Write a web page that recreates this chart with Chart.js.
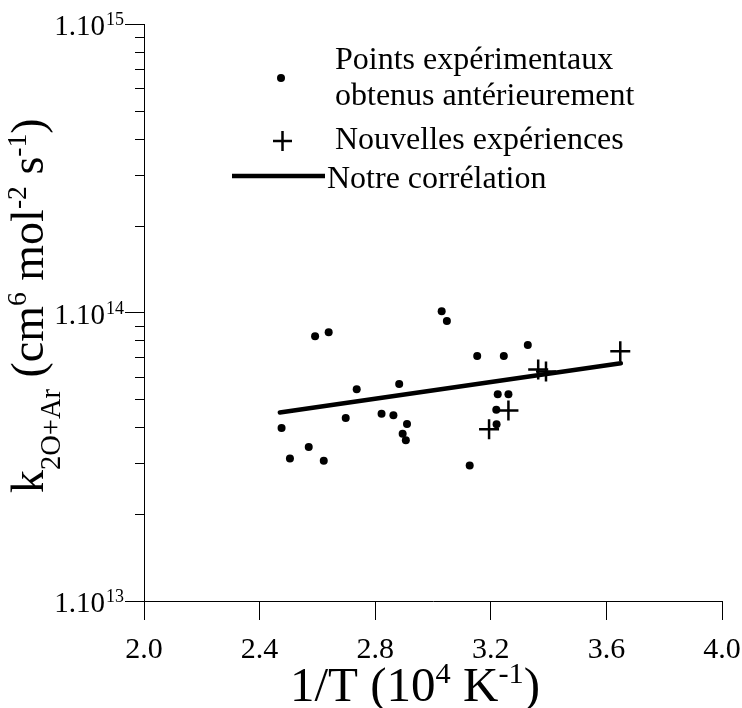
<!DOCTYPE html>
<html><head><meta charset="utf-8">
<script src="https://cdn.jsdelivr.net/npm/chart.js@4/dist/chart.umd.min.js"></script>
<style>html,body{margin:0;padding:0;background:#fff}#wrap{width:742px;height:708px;position:relative}</style>
</head><body><div id="wrap"><canvas id="c"></canvas></div>
<script>
// ---- data ----
const prevX = [3.030, 3.048, 2.592, 2.639, 3.153, 2.883, 2.736, 2.476, 2.698, 2.822, 2.863, 2.910, 2.895, 2.906, 2.570, 2.505, 2.622, 3.127, 3.245, 3.328, 3.224, 3.261, 3.219, 3.220];
const prevK = [1.01e14, 9.34e13, 8.27e13, 8.54e13, 7.06e13, 5.65e13, 5.42e13, 3.98e13, 4.31e13, 4.46e13, 4.40e13, 4.11e13, 3.80e13, 3.61e13, 3.42e13, 3.12e13, 3.06e13, 2.95e13, 7.06e13, 7.71e13, 5.21e13, 5.21e13, 4.60e13, 4.10e13];
const newX = [3.194, 3.261, 3.364, 3.391, 3.648];
const newK = [3.94e13, 4.57e13, 6.35e13, 6.24e13, 7.34e13];
const fitX = [2.47, 3.65];
const fitK = [4.50e13, 6.67e13];
const xTickValues = [2.0, 2.4, 2.8, 3.2, 3.6, 4.0];
const yDecades = [13, 14, 15];
const yMinorMultipliers = [2, 3, 4, 5, 6, 7, 8, 9];
const seriesLabels = ['Points expérimentaux\nobtenus antérieurement', 'Nouvelles expériences', 'Notre corrélation'];

const FONT = "'Liberation Serif', 'Times New Roman', serif";
Chart.defaults.font.family = FONT;
Chart.defaults.color = '#000';

function pts(xs, ys) { return xs.map((x, i) => ({ x: x, y: ys[i] })); }

// rich text segments: [text, scale, shift(em, + = up)]
function richWidth(ctx, segs, size) {
  let w = 0;
  for (const s of segs) { ctx.font = (size * s[1]) + 'px ' + FONT; w += ctx.measureText(s[0]).width; }
  return w;
}
function drawRich(ctx, segs, x, y, size) {
  let cx = x;
  ctx.textAlign = 'left';
  ctx.textBaseline = 'alphabetic';
  for (const s of segs) {
    ctx.font = (size * s[1]) + 'px ' + FONT;
    ctx.fillText(s[0], cx, y - s[2] * size);
    cx += ctx.measureText(s[0]).width;
  }
}

const decor = {
  id: 'decor',
  afterDraw(chart) {
    const ctx = chart.ctx;
    const ys = chart.scales.y;
    const left = chart.chartArea.left;
    ctx.save();
    ctx.fillStyle = '#000';
    ctx.strokeStyle = '#000';
    // minor y ticks
    ctx.lineWidth = 1;
    for (let i = 0; i < yDecades.length - 1; i++) {
      for (const m of yMinorMultipliers) {
        const py = Math.round(ys.getPixelForValue(m * Math.pow(10, yDecades[i]))) + 0.5;
        ctx.beginPath(); ctx.moveTo(left - 9, py); ctx.lineTo(left, py); ctx.stroke();
      }
    }
    // y labels 1.10^n
    for (const d of yDecades) {
      const py = ys.getPixelForValue(Math.pow(10, d));
      ctx.textBaseline = 'alphabetic';
      ctx.textAlign = 'right';
      ctx.font = '18px ' + FONT;
      const sup = String(d);
      const sw = ctx.measureText(sup).width;
      ctx.fillText(sup, left - 20, py + 1);
      ctx.font = '29px ' + FONT;
      ctx.fillText('1.10', left - 20 - sw - 1, py + 11);
    }
    // x title
    const xt = [['1/T (10', 1, 0], ['4', 0.62, 0.36], [' K', 1, 0], ['-1', 0.62, 0.36], [')', 1, 0]];
    const xsz = 49;
    const xw = richWidth(ctx, xt, xsz);
    drawRich(ctx, xt, 540 - xw, 701, xsz);
    // y title (rotated)
    const yt = [['k', 1, 0], ['2O+Ar', 0.62, -0.36], [' (cm', 1, 0], ['6', 0.6, 0.36], [' mol', 1, 0], ['-2', 0.6, 0.36], [' s', 1, 0], ['-1', 0.6, 0.36], [')', 1, 0]];
    const ysz = 46;
    ctx.save();
    ctx.translate(43, 493);
    ctx.rotate(-Math.PI / 2);
    drawRich(ctx, yt, 0, 0, ysz);
    ctx.restore();
    // legend
    const ds = chart.data.datasets;
    ctx.font = '32px ' + FONT;
    ctx.textAlign = 'left';
    ctx.textBaseline = 'alphabetic';
    ctx.beginPath(); ctx.arc(281, 78, ds[0].pointRadius, 0, Math.PI * 2); ctx.fillStyle = ds[0].backgroundColor; ctx.fill();
    ctx.fillStyle = '#000';
    const l0 = ds[0].label.split('\n');
    ctx.fillText(l0[0], 335, 69);
    ctx.fillText(l0[1], 335, 105);
    ctx.lineWidth = ds[1].borderWidth;
    ctx.beginPath(); ctx.moveTo(273, 141); ctx.lineTo(292, 141); ctx.moveTo(282.5, 131); ctx.lineTo(282.5, 151); ctx.stroke();
    ctx.fillText(ds[1].label, 335, 149);
    ctx.lineWidth = ds[2].borderWidth; ctx.lineCap = 'butt';
    ctx.beginPath(); ctx.moveTo(232, 176); ctx.lineTo(325, 176); ctx.stroke();
    ctx.fillText(ds[2].label, 327, 188);
    ctx.restore();
  }
};

new Chart(document.getElementById('c'), {
  type: 'scatter',
  data: {
    datasets: [
      { label: seriesLabels[0], data: pts(prevX, prevK), pointStyle: 'circle', pointRadius: 4, backgroundColor: '#000', borderWidth: 0 },
      { label: seriesLabels[1], data: pts(newX, newK), pointStyle: 'cross', pointRadius: 10, borderColor: '#000', borderWidth: 2.5 },
      { label: seriesLabels[2], data: pts(fitX, fitK), showLine: true, pointRadius: 0, borderColor: '#000', borderWidth: 4.5, borderCapStyle: 'round' }
    ]
  },
  options: {
    responsive: true,
    maintainAspectRatio: false,
    animation: false,
    layout: { padding: { top: 24, right: 20, left: 0, bottom: 0 } },
    plugins: { legend: { display: false }, tooltip: { enabled: false } },
    scales: {
      x: {
        type: 'linear', min: 2, max: 4,
        afterBuildTicks: s => { s.ticks = xTickValues.map(v => ({ value: v })); },
        afterFit: s => { s.height = 107; s.paddingLeft = 0; s.paddingRight = 0; },
        ticks: { callback: v => Number(v).toFixed(1), font: { size: 30, family: FONT }, color: '#000', padding: 12, maxRotation: 0 },
        grid: { drawOnChartArea: false, drawTicks: true, tickLength: 19, tickColor: '#000', color: '#000' },
        border: { display: true, color: '#000', width: 1 }
      },
      y: {
        type: 'logarithmic', min: 1e13, max: 1e15,
        afterBuildTicks: s => { s.ticks = yDecades.map(d => ({ value: Math.pow(10, d), major: true })); },
        afterFit: s => { s.width = 144; s.paddingTop = 0; s.paddingBottom = 0; },
        ticks: { display: false },
        grid: { drawOnChartArea: false, drawTicks: true, tickLength: 19, tickColor: '#000', color: '#000' },
        border: { display: true, color: '#000', width: 1 }
      }
    }
  },
  plugins: [decor]
});
</script>
</body></html>
